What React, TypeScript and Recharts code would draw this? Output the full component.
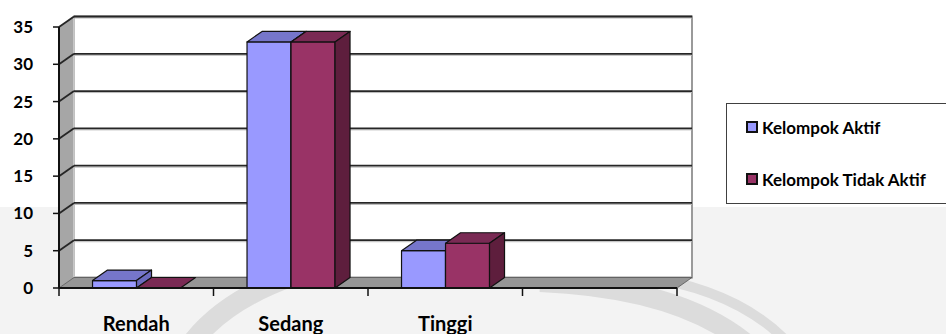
import React from 'react';
import { BarChart, Bar, XAxis, YAxis, CartesianGrid, Legend } from 'recharts';

// Chart data
const categories = ['Rendah', 'Sedang', 'Tinggi', ''];
const aktif = [1, 33, 5, null];
const tidakAktif = [0, 33, 6, null];
const yTicks = [0, 5, 10, 15, 20, 25, 30, 35];

const seriesNames = { aktif: 'Kelompok Aktif', tidakAktif: 'Kelompok Tidak Aktif' };

const data = categories.map((name, i) => ({
  name,
  aktif: aktif[i],
  tidakAktif: tidakAktif[i],
}));

// 3D depth offset (px)
const DX = 15;
const DY = 10.5;

const FONT = 'Lato, "DejaVu Sans", sans-serif';

const palette = {
  aktif: { front: '#9999FF', top: '#7676CA', side: '#6B6BBE' },
  tidakAktif: { front: '#993366', top: '#7A2A54', side: '#5E1E3D' },
};

const makeBox = (c: { front: string; top: string; side: string }) => (props: any) => {
  const { x, y, width, height } = props;
  if (x == null || y == null || isNaN(y)) return null;
  const w = width;
  const h = Math.max(0, height);
  const top = `${x},${y} ${x + w},${y} ${x + w + DX},${y - DY} ${x + DX},${y - DY}`;
  const side = `${x + w},${y} ${x + w + DX},${y - DY} ${x + w + DX},${y + h - DY} ${x + w},${y + h}`;
  return (
    <g stroke="#111" strokeWidth={1.2} strokeLinejoin="round">
      {h > 0 && <rect x={x} y={y} width={w} height={h} fill={c.front} />}
      <polygon points={top} fill={c.top} />
      {h > 0 && <polygon points={side} fill={c.side} />}
    </g>
  );
};

const AktifBox = makeBox(palette.aktif);
const TidakAktifBox = makeBox(palette.tidakAktif);

// walls, floor and gridlines on the back wall
const WallLine = (props: any) => {
  const { x, y, width, height, y1, index } = props;
  const left = x;
  const right = x + width;
  const bottom = y + height;
  const isFloor = Math.abs(y1 - bottom) < 0.5;
  return (
    <g key={`wl-${index}`}>
      {index === 0 && (
        <g>
          <rect x={left + DX} y={y - DY} width={width} height={height} fill="#fff" stroke="#9a9a9a" strokeWidth={2} />
          <polygon
            points={`${left},${y} ${left + DX},${y - DY} ${left + DX},${bottom - DY} ${left},${bottom}`}
            fill="#a6a6a6"
          />
          <line x1={left + DX} y1={y - DY} x2={left + DX} y2={bottom - DY} stroke="#e8e8e8" strokeWidth={1} />
          <polygon
            points={`${left},${bottom} ${right},${bottom} ${right + DX},${bottom - DY} ${left + DX},${bottom - DY}`}
            fill="#969696"
            stroke="#555"
            strokeWidth={0.8}
          />
        </g>
      )}
      {!isFloor && (
        <g>
          <line x1={left + DX} y1={y1 - DY + 1.5} x2={right + DX} y2={y1 - DY + 1.5} stroke="#b8b8b8" strokeWidth={1} />
          <line x1={left + DX} y1={y1 - DY} x2={right + DX} y2={y1 - DY} stroke="#262626" strokeWidth={1.8} />
          <line x1={left} y1={y1} x2={left + DX} y2={y1 - DY} stroke="#262626" strokeWidth={1.8} />
        </g>
      )}
    </g>
  );
};

const CategoryTick = (props: any) => {
  const { x, y, payload, index, visibleTicksCount } = props;
  const half = payload.offset ?? 0;
  const last = index === visibleTicksCount - 1;
  return (
    <g>
      <line x1={x - half} y1={y} x2={x - half} y2={y + 8} stroke="#111" strokeWidth={1.5} />
      {last && <line x1={x + half} y1={y} x2={x + half} y2={y + 8} stroke="#111" strokeWidth={1.5} />}
      <text x={x} y={y + 43} textAnchor="middle" fontFamily={FONT} fontWeight={700} fontSize={20} fill="#000">
        {payload.value}
      </text>
    </g>
  );
};

const LegendBox = (props: any) => {
  const { payload } = props;
  return (
    <div
      style={{
        width: 240,
        height: 101,
        background: '#fff',
        border: '1px solid #404040',
        boxSizing: 'border-box',
        paddingTop: 13,
        paddingLeft: 19,
        fontFamily: FONT,
        fontWeight: 700,
        fontSize: 17,
        color: '#000',
      }}
    >
      {(payload || []).map((p: any, i: number) => (
        <div key={i} style={{ display: 'flex', alignItems: 'center', height: 20, marginBottom: i === 0 ? 32 : 0 }}>
          <span
            style={{
              display: 'inline-block',
              width: 8,
              height: 8,
              background: p.color,
              border: '2px solid #111',
              marginRight: 4,
            }}
          />
          <span>{p.value}</span>
        </div>
      ))}
    </div>
  );
};

export default function App() {
  return (
    <div
      style={{
        position: 'fixed',
        left: 0,
        top: 0,
        width: 946,
        height: 334,
        overflow: 'hidden',
        background: 'linear-gradient(to bottom, #fff 0px, #fff 207px, #f3f3f3 207px, #f3f3f3 334px)',
      }}
    >
      <svg width={946} height={334} style={{ position: 'absolute', left: 0, top: 0 }}>
        <g fill="none" stroke="#dcdcdc" strokeWidth={20} strokeLinecap="butt">
          <path d="M 190 345 Q 235 285 345 262" />
          <path d="M 540 282 Q 680 288 748 345" />
          <path d="M 640 276 Q 740 290 790 345" strokeWidth={10} />
        </g>
      </svg>
      <div style={{ position: 'absolute', left: 0, top: 0 }}>
        <BarChart
          width={946}
          height={334}
          data={data}
          margin={{ top: 27, right: 269, bottom: 0, left: 0 }}
          barCategoryGap="21.7%"
          barGap={0}
        >
          <CartesianGrid vertical={false} horizontal={(p: any) => <WallLine {...p} />} />
          <XAxis
            dataKey="name"
            height={46}
            tickLine={false}
            tickSize={0}
            tickMargin={0}
            axisLine={{ stroke: '#111', strokeWidth: 2 }}
            tick={<CategoryTick />}
            interval={0}
          />
          <YAxis
            width={59}
            domain={[0, 35]}
            ticks={yTicks}
            interval={0}
            tickSize={6}
            tickMargin={20}
            axisLine={{ stroke: '#111', strokeWidth: 2 }}
            tickLine={{ stroke: '#111', strokeWidth: 1.5 }}
            tick={{ fill: '#000', fontFamily: FONT, fontWeight: 700, fontSize: 17 }}
          />
          <Legend
            layout="horizontal"
            verticalAlign="middle"
            align="center"
            wrapperStyle={{ left: 726, top: 103, width: 240, height: 101 }}
            content={<LegendBox />}
          />
          <Bar dataKey="aktif" name={seriesNames.aktif} fill={palette.aktif.front} shape={AktifBox} isAnimationActive={false} />
          <Bar
            dataKey="tidakAktif"
            name={seriesNames.tidakAktif}
            fill={palette.tidakAktif.front}
            shape={TidakAktifBox}
            isAnimationActive={false}
          />
        </BarChart>
      </div>
    </div>
  );
}
